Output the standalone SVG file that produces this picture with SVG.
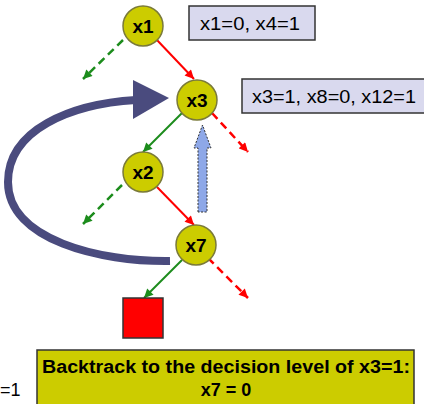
<svg xmlns="http://www.w3.org/2000/svg" width="424" height="404" viewBox="0 0 424 404">
<defs>
<style>
.node circle{fill:#cccc00;stroke:#7a7a3a;stroke-width:1.5}
.node text{font-family:"Liberation Sans",Arial,sans-serif;font-weight:bold;font-size:19px;text-anchor:middle;fill:#000}
.red{stroke:#ff0000;stroke-width:2;fill:none}
.green{stroke:#1c8c1c;stroke-width:2;fill:none}
.dash{stroke-dasharray:8,5;stroke-width:2.5}
.box rect{fill:#d9d9ee;stroke:#333;stroke-width:1.5}
.lbl{font-family:"Liberation Sans",Arial,sans-serif;font-size:18px;fill:#000}
.big{font-family:"Liberation Sans",Arial,sans-serif;font-size:18px;font-weight:bold;fill:#000;text-anchor:middle}
</style>
<marker id="ar" viewBox="0 0 10 10" refX="10" refY="5" markerWidth="10" markerHeight="9" markerUnits="userSpaceOnUse" orient="auto"><path d="M0,0L10,5L0,10z" fill="#ff0000"/></marker>
<marker id="ag" viewBox="0 0 10 10" refX="10" refY="5" markerWidth="10" markerHeight="9" markerUnits="userSpaceOnUse" orient="auto"><path d="M0,0L10,5L0,10z" fill="#1c8c1c"/></marker>
</defs>
<rect width="424" height="404" fill="#fff"/>
<g id="connectors">
<line class="red" x1="156" y1="39" x2="194" y2="79" marker-end="url(#ar)"/>
<line class="green dash" x1="123" y1="40" x2="83" y2="79" marker-end="url(#ag)"/>
<line class="green" x1="182" y1="113" x2="143" y2="152" marker-end="url(#ag)"/>
<line class="red dash" x1="212" y1="113" x2="248" y2="152" marker-end="url(#ar)"/>
<line class="green dash" x1="122" y1="185" x2="83" y2="224" marker-end="url(#ag)"/>
<line class="red" x1="157" y1="187" x2="194" y2="225" marker-end="url(#ar)"/>
<line class="red dash" x1="208" y1="258" x2="248" y2="298" marker-end="url(#ar)"/>
<line class="green" x1="182" y1="260" x2="144" y2="298" marker-end="url(#ag)"/>
</g>
<g id="backjump">
<path d="M170,261 C100,262 8,240 8,182 C8,130 70,104 136,100" fill="none" stroke="#4a4b7e" stroke-width="8"/>
<path d="M133,80 L133,119 L169,98 Z" fill="#4a4b7e"/>
</g>
<g id="uparrow">
<path d="M198,212 L198,148 L194,148 L202.5,125 L211,148 L207,148 L207,212 Z" fill="#8ea8e8" stroke="#333" stroke-width="1" stroke-dasharray="2,1.5"/>
</g>
<g id="x1" class="node"><circle cx="143" cy="26" r="20"/><text x="143" y="33">x1</text></g>
<g id="x3" class="node"><circle cx="197" cy="100" r="20"/><text x="197" y="107">x3</text></g>
<g id="x2" class="node"><circle cx="143" cy="172" r="20"/><text x="143" y="179">x2</text></g>
<g id="x7" class="node"><circle cx="196" cy="245" r="20"/><text x="196" y="252">x7</text></g>
<g id="conflict"><rect x="123" y="298" width="40" height="40" fill="#ff0000" stroke="#333" stroke-width="1.5"/></g>
<g id="box1" class="box"><rect x="189" y="6" width="126" height="34"/><text class="lbl" x="200" y="30" textLength="100" lengthAdjust="spacingAndGlyphs">x1=0, x4=1</text></g>
<g id="box2" class="box"><rect x="242" y="79" width="190" height="34"/><text class="lbl" x="252" y="103" textLength="164" lengthAdjust="spacingAndGlyphs">x3=1, x8=0, x12=1</text></g>
<g id="note">
<rect x="37" y="350" width="377" height="60" fill="#cccc00" stroke="#333" stroke-width="1.5"/>
<text class="big" x="226" y="373" textLength="368" lengthAdjust="spacingAndGlyphs">Backtrack to the decision level of x3=1:</text>
<text class="big" x="226" y="396">x7 = 0</text>
</g>
<text class="lbl" x="0" y="396">=1</text>
</svg>
